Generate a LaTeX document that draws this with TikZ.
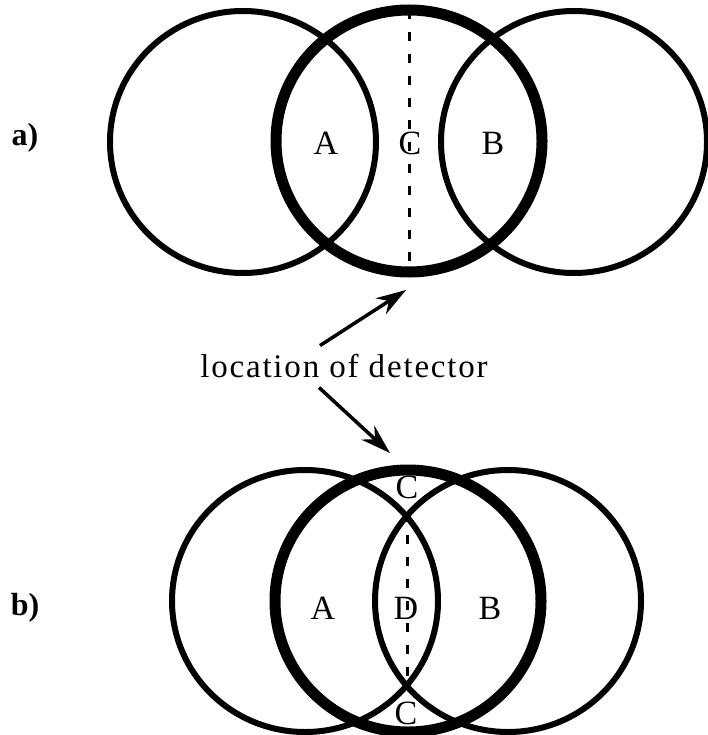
\documentclass[tikz,border=0pt]{standalone}
\usepackage{fontspec}
\setmainfont{Liberation Serif}
\usetikzlibrary{positioning,arrows.meta,calc,shapes.geometric}

\begin{document}
\begin{tikzpicture}[x=1pt,y=-1pt,
  ring/.style={draw,ellipse,line width=6pt,minimum width=266pt,minimum height=262pt,inner sep=0pt,outer sep=0pt},
  heavy/.style={line width=11pt},
  reg/.style={font=\fontsize{34}{40}\selectfont,inner sep=0pt},
  tag/.style={font=\fontsize{32}{38}\selectfont\bfseries,inner sep=0pt},
  det/.style={dash pattern=on 9pt off 13pt,line width=3pt},
  ar/.style={-{Stealth[length=30pt,width=19pt]},line width=3.5pt}
]
\useasboundingbox (0,0) rectangle (707,735);
% a) three rings, detector on the middle one
\node[tag] (ta) at (25,138) {a)};
\node[ring] (aL) at (243,142) {};
\node[ring] (aR) at (574,142) {};
\node[ring,heavy] (aM) at (409,141) {};
\draw[det] (aM.north) -- (aM.south);
\node[reg] (aA) at (326,143) {A};
\node[reg] (aC) at (410,143) {C};
\node[reg] (aB) at (493,143) {B};
\coordinate (detA) at (406,290);
% label and arrows
\node[font=\fontsize{33}{39}\selectfont\addfontfeature{LetterSpace=5.5},anchor=base,inner sep=0pt]
     (loc) at (344,377) {location of detector};
\coordinate (detB) at (390,453);
\draw[ar] ($(loc.north)+(-24,-8)$) -- (detA);
\draw[ar] ($(loc.south)+(-25,10)$) -- (detB);
% b) rings closer together
\node[tag] (tb) at (25,608) {b)};
\node[ring] (bL) at (305,601) {};
\node[ring] (bR) at (508,601) {};
\node[ring,heavy] (bM) at (408,601) {};
\coordinate (lensT) at (407,513);
\coordinate (lensB) at (407,689);
\draw[det] (lensT) -- (lensB);
\node[reg] (bA) at (323,608) {A};
\node[reg] (bD) at (406,608) {D};
\node[reg] (bB) at (490,608) {B};
\node[reg] (bC1) at (407,487) {C};
\node[reg] (bC2) at (406,713) {C};
\end{tikzpicture}
\end{document}
